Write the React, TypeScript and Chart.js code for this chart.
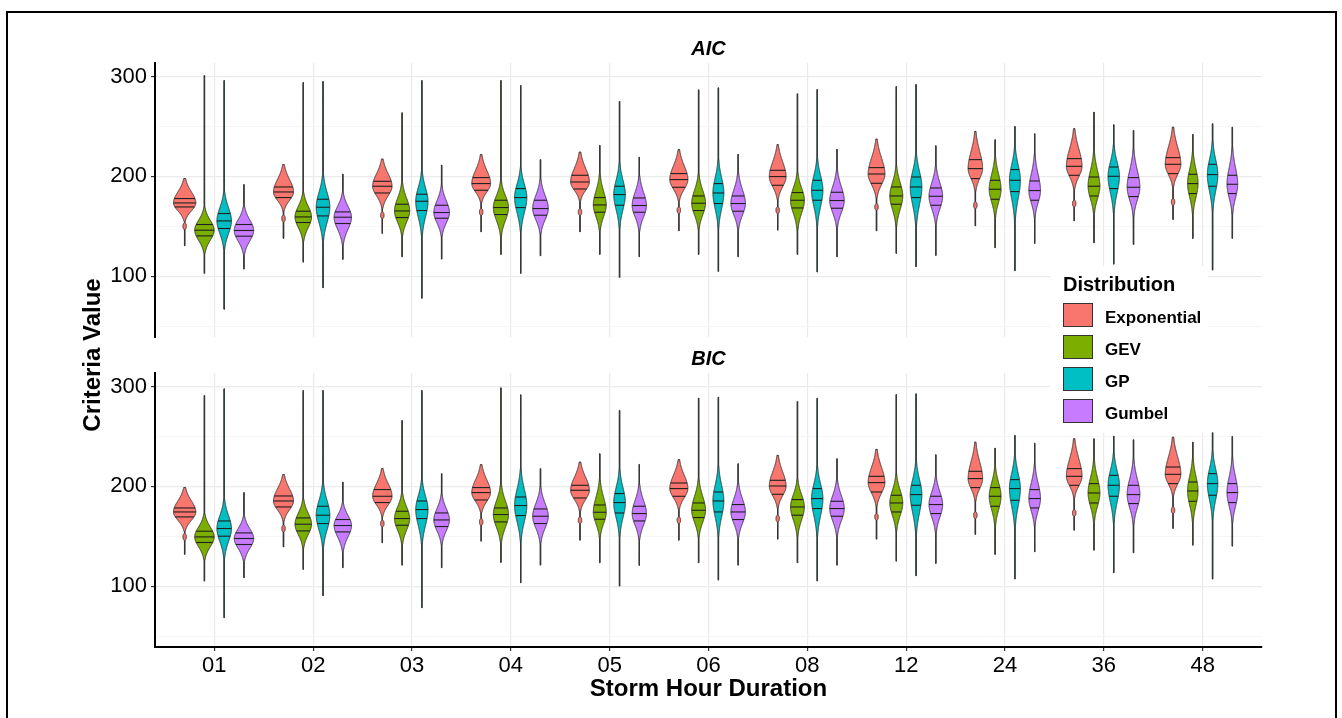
import React, { useEffect, useRef } from 'react';
import { Chart, registerables } from 'chart.js';

Chart.register(...registerables);

// ---------------- data ----------------
const DURATIONS = ['01', '02', '03', '04', '05', '06', '08', '12', '24', '36', '48'];
const DISTRIBUTIONS = ['Exponential', 'GEV', 'GP', 'Gumbel'];
const Y_TICKS = [50, 100, 150, 200, 250, 300];

// relative peak density of each violin (Exponential, GEV, GP, Gumbel)
const PEAK_DENSITY = [
  [100, 90, 87, 84, 84, 81, 75, 75, 65, 70, 70],
  [87, 74, 68, 68, 58, 62, 62, 58, 53, 53, 47],
  [65, 61, 55, 55, 52, 49, 51, 52, 49, 51, 47],
  [87, 78, 70, 70, 64, 65, 65, 61, 52, 57, 48],
];

// ---- AIC ---- rows: Exponential, GEV, GP, Gumbel
const AIC_MAX = [
  [197.7, 211.7, 217.3, 221.7, 224.3, 226.7, 231.7, 237.3, 245, 247.7, 249.3],
  [301, 294, 263.7, 296, 231, 286.7, 282.7, 290, 236.7, 264.3, 242],
  [296, 295, 296, 291, 275, 288.7, 287, 292, 250, 251.7, 252.7],
  [191.7, 202.3, 211.3, 216.7, 219.3, 222, 227, 230.7, 242.7, 246, 249.3],
];
const AIC_UPPER = [
  [197.7, 211.7, 217.3, 221.7, 224.3, 226.7, 231.7, 237.3, 245, 247.7, 249.3],
  [167.7, 182.7, 192.7, 194.3, 201, 201, 202.7, 209.3, 219.3, 224.3, 224.3],
  [184, 201, 204.3, 207.7, 212.7, 216, 217.7, 222.7, 229.3, 231, 234.3],
  [169, 182.7, 189.3, 196, 199.3, 202.7, 206, 209.3, 221, 226, 227.7],
];
const AIC_Q3 = [
  [177.7, 189.3, 195, 198.7, 201, 202.7, 206, 208.7, 216.7, 217.7, 218.7],
  [151.7, 165, 172, 176, 178.7, 180.3, 183.7, 189.3, 196, 199.3, 202],
  [162.7, 177, 182, 187.7, 190, 192.7, 196, 199.3, 206.7, 209.3, 212],
  [151.7, 164.3, 171, 176, 178.3, 180.3, 184, 188.3, 195.3, 198.7, 201],
];
const AIC_MEDIAN = [
  [173.3, 184.3, 190, 192.7, 194.3, 196.7, 199.7, 202.3, 207.7, 210, 212],
  [146, 159.3, 165.3, 168.7, 171.3, 173, 176, 180.3, 187, 190, 192.7],
  [155.3, 169, 175, 178.7, 181.7, 183.3, 186, 189.3, 196, 200, 201.7],
  [145.7, 159, 163.7, 167.7, 170.7, 172.7, 175.7, 180, 185.7, 189, 192],
];
const AIC_Q1 = [
  [169.3, 178.7, 183.3, 186, 187.3, 189, 191, 193, 197.7, 201, 202.7],
  [140.3, 153.7, 158.7, 161.7, 164, 165.7, 168.3, 172, 177, 180.3, 182.7],
  [147.7, 160.3, 165.7, 168.7, 171, 172.7, 176, 178.7, 184.7, 187.7, 190],
  [140, 152.7, 158, 161, 164, 165, 168, 171, 176, 179.7, 182.7],
];
const AIC_LOWER = [
  [156, 166, 169.3, 174.3, 176, 176, 177.7, 179.3, 186, 187.7, 190],
  [124, 136, 141, 141, 146, 147.7, 147.7, 151, 159.3, 162.7, 162.7],
  [127.7, 136, 141, 146, 149.3, 149.3, 151, 151, 156, 164.3, 166],
  [122.7, 132.7, 141, 143.3, 146, 147.7, 149.3, 152.7, 159.3, 161, 162.7],
];
const AIC_MIN = [
  [130.3, 137.7, 142.7, 144.3, 144.3, 145.3, 146, 145.3, 150.3, 155.3, 156.7],
  [102.7, 114, 119.3, 121.7, 121.7, 121.7, 121.7, 122.7, 128.3, 133.3, 137.7],
  [66.7, 88.3, 77.7, 102.7, 98.7, 104.7, 104, 109.3, 105.3, 112, 106],
  [107, 116.7, 117, 120.3, 119.3, 119.3, 119.3, 120.7, 132.7, 131.7, 137.7],
];
// secondary (lower) mode of the Exponential violins
const AIC_EXP_MODE2 = [150, 157.7, 161, 164.3, 164.3, 166, 166, 169.3, 171, 172.7, 174.3];

// ---- BIC ----
const BIC_MAX = [
  [198.7, 211.7, 217.7, 221.7, 224.3, 226.7, 231, 237, 244.3, 247.7, 249.3],
  [291, 296, 266, 298.7, 232.7, 288.3, 285, 292, 238.3, 247.7, 244.3],
  [297.7, 296, 296, 291.7, 276, 289.3, 288.3, 292.7, 251, 250.3, 253.7],
  [193.7, 204.3, 212.7, 217.7, 222, 222.7, 227.7, 231.7, 243.3, 246.7, 250],
];
const BIC_UPPER = [
  [198.7, 211.7, 217.7, 221.7, 224.3, 226.7, 231, 237, 244.3, 247.7, 249.3],
  [171, 186, 192.7, 201, 206, 206, 206, 211, 219.3, 226, 227.7],
  [186, 202.7, 206, 216, 216, 219.3, 219.3, 224.3, 231, 232.7, 234.3],
  [169.3, 182.7, 191, 197.7, 201, 202.7, 206, 209.3, 221, 226, 227.7],
];
const BIC_Q3 = [
  [178.3, 190.3, 196.7, 198.7, 201, 203.3, 206, 210, 215, 217.7, 219.3],
  [155, 168.3, 175, 178.3, 181.3, 183.3, 186.7, 191, 198.7, 202.7, 204.3],
  [165.3, 180, 185.3, 189.3, 192.7, 194.3, 197.7, 201, 206.7, 211, 212.7],
  [153.3, 166.7, 173.3, 177.3, 180, 181.7, 185, 190, 196.7, 201, 202.7],
];
const BIC_MEDIAN = [
  [174.3, 185.3, 190, 193.7, 196, 197.7, 200.3, 203.7, 207.7, 210, 212],
  [149.3, 162, 167.7, 171.7, 174, 176, 179.3, 183.3, 190, 193.3, 195.3],
  [157.7, 171, 176.7, 180.7, 183.7, 185.3, 187.7, 191.7, 197.7, 201, 202.7],
  [147.7, 160.7, 166.3, 170, 172.7, 174.3, 177.7, 181.7, 187.7, 191.7, 193.7],
];
const BIC_Q1 = [
  [169.3, 179.3, 183.7, 186.3, 188.3, 190, 192, 194.3, 198.7, 201, 202.7],
  [143.7, 155.3, 161, 164.3, 167, 168.7, 171, 174.3, 180, 183.3, 185],
  [150, 162.7, 167.7, 170.7, 173.3, 174.3, 177.7, 181, 186, 190, 191],
  [141.7, 154.3, 159.7, 162.7, 165.3, 166.7, 170, 172.7, 178.3, 182.7, 183.7],
];
const BIC_LOWER = [
  [156, 166, 171, 174.3, 176, 177.7, 179.3, 181, 186, 189.3, 191],
  [127.7, 139.3, 142.7, 144.3, 149.3, 150, 151, 156, 161, 164.3, 164.3],
  [129.3, 139.3, 142.7, 146, 151, 151, 151, 152.7, 159.3, 164.3, 167.7],
  [126, 136, 142.7, 144.3, 147.7, 149.3, 151, 154.3, 161, 162.7, 164.3],
];
const BIC_MIN = [
  [131.7, 139.3, 143.3, 145, 146, 146, 147, 147, 151.7, 156, 157.7],
  [105, 116.7, 121, 123.7, 123.3, 123.3, 123.3, 125, 131.7, 136, 141],
  [68.3, 90.3, 78.3, 103.3, 100, 106, 105, 110.3, 107, 113.3, 107],
  [108.3, 118.3, 118.3, 121, 120.7, 121, 121, 122.7, 134.3, 133.3, 140],
];
const BIC_EXP_MODE2 = [149.3, 157.7, 162.7, 164.3, 166, 166, 167.7, 169.3, 171, 173.3, 176];

// ---------------- styling ----------------
const COLORS = ['#F8766D', '#7CAE00', '#00BFC4', '#C77CFF'];
const DODGE = [-0.3, -0.1, 0.1, 0.3];
const MAX_HALF_WIDTH = 0.113; // x units for PEAK_DENSITY = 100
const FONT = '"Liberation Sans", Arial, Helvetica, sans-serif';
const OUTLINE = '#333333';

type Facet = {
  id: string;
  title: string;
  max: number[][];
  upper: number[][];
  q3: number[][];
  median: number[][];
  q1: number[][];
  lower: number[][];
  min: number[][];
  mode2: number[];
};

const FACETS: Facet[] = [
  { id: 'yA', title: 'AIC', max: AIC_MAX, upper: AIC_UPPER, q3: AIC_Q3, median: AIC_MEDIAN, q1: AIC_Q1, lower: AIC_LOWER, min: AIC_MIN, mode2: AIC_EXP_MODE2 },
  { id: 'yB', title: 'BIC', max: BIC_MAX, upper: BIC_UPPER, q3: BIC_Q3, median: BIC_MEDIAN, q1: BIC_Q1, lower: BIC_LOWER, min: BIC_MIN, mode2: BIC_EXP_MODE2 },
];

function makeDatasets() {
  const ds: any[] = [];
  FACETS.forEach((f) => {
    DISTRIBUTIONS.forEach((name, d) => {
      ds.push({
        type: 'scatter',
        label: name + ' ' + f.title,
        yAxisID: f.id,
        data: DURATIONS.map((_, i) => ({ x: i + 1 + DODGE[d], y: f.median[d][i] })),
        pointRadius: 0,
        pointHoverRadius: 0,
        backgroundColor: COLORS[d],
        violin: DURATIONS.map((_, i) => ({
          x: i + 1 + DODGE[d],
          max: f.max[d][i],
          upper: f.upper[d][i],
          q3: f.q3[d][i],
          med: f.median[d][i],
          q1: f.q1[d][i],
          lower: f.lower[d][i],
          min: f.min[d][i],
          mode2: d === 0 ? f.mode2[i] : null,
          dens: PEAK_DENSITY[d][i],
        })),
        color: COLORS[d],
      });
    });
  });
  return ds;
}

function halfWidthAt(v: number, s: any, W: number) {
  let t: number;
  if (v <= s.med) t = (s.med - v) / Math.max(1e-6, s.med - s.lower);
  else t = (v - s.med) / Math.max(1e-6, s.upper - s.med);
  let w = W * Math.exp(-2.4 * t * t);
  if (t > 1) w *= Math.exp(-6 * (t - 1));
  if (s.mode2 != null) {
    const u = (v - s.mode2) / 3.2;
    w = Math.max(w, 1.7 * Math.exp(-u * u * u * u));
  }
  return Math.max(w, 0.2);
}

const violinPlugin = {
  id: 'violinPlugin',
  beforeDatasetsDraw(chart: any) {
    const { ctx, chartArea } = chart;
    const yA = chart.scales.yA;
    const yB = chart.scales.yB;
    // blank strip between panels
    ctx.save();
    ctx.fillStyle = '#ffffff';
    ctx.fillRect(chartArea.left + 1, yA.bottom, chartArea.right - chartArea.left + 2, yB.top - yA.bottom);
    ctx.restore();
  },
  afterDatasetsDraw(chart: any) {
    const { ctx } = chart;
    const xs = chart.scales.x;
    chart.data.datasets.forEach((ds: any) => {
      const ys = chart.scales[ds.yAxisID];
      ds.violin.forEach((s: any) => {
        const cx = xs.getPixelForValue(s.x);
        const W = xs.getPixelForValue(s.x + (MAX_HALF_WIDTH * s.dens) / 100) - cx;
        ctx.save();
        // thin tail from min to max
        ctx.strokeStyle = '#3a3a3a';
        ctx.lineWidth = 1.4;
        ctx.beginPath();
        ctx.moveTo(cx, ys.getPixelForValue(s.min));
        ctx.lineTo(cx, ys.getPixelForValue(s.max));
        ctx.stroke();
        // body
        const n = 500;
        const pts: [number, number][] = [];
        for (let k = 0; k <= n; k++) {
          const v = s.min + ((s.max - s.min) * k) / n;
          pts.push([halfWidthAt(v, s, W), ys.getPixelForValue(v)]);
        }
        ctx.beginPath();
        pts.forEach(([w, y], k) => {
          if (k === 0) ctx.moveTo(cx + w, y);
          else ctx.lineTo(cx + w, y);
        });
        for (let k = pts.length - 1; k >= 0; k--) {
          const [w, y] = pts[k];
          ctx.lineTo(cx - w, y);
        }
        ctx.closePath();
        ctx.fillStyle = ds.color;
        ctx.fill();
        ctx.lineWidth = 1;
        ctx.strokeStyle = OUTLINE;
        ctx.lineJoin = 'round';
        ctx.stroke();
        // quantile lines
        ctx.lineWidth = 1.1;
        ctx.strokeStyle = '#1f1f1f';
        [s.q1, s.med, s.q3].forEach((q: number) => {
          const w = halfWidthAt(q, s, W);
          const y = ys.getPixelForValue(q);
          ctx.beginPath();
          ctx.moveTo(cx - w, y);
          ctx.lineTo(cx + w, y);
          ctx.stroke();
        });
        ctx.restore();
      });
    });
  },
  afterDraw(chart: any) {
    const { ctx, chartArea } = chart;
    const yA = chart.scales.yA;
    const yB = chart.scales.yB;
    const midX = (chartArea.left + chartArea.right) / 2;
    ctx.save();
    // strip titles
    ctx.fillStyle = '#000000';
    ctx.textAlign = 'center';
    ctx.textBaseline = 'middle';
    ctx.font = 'italic bold 20px ' + FONT;
    ctx.fillText(FACETS[0].title, midX, yA.top - 14);
    ctx.fillText(FACETS[1].title, midX, yB.top - 14);
    // y axis title
    ctx.save();
    ctx.translate(93, (chartArea.top + chartArea.bottom) / 2);
    ctx.rotate(-Math.PI / 2);
    ctx.font = 'bold 24px ' + FONT;
    ctx.fillText('Criteria Value', 0, 0);
    ctx.restore();
    // legend
    const lx = 1050;
    const ly = 266;
    ctx.fillStyle = '#ffffff';
    ctx.fillRect(lx, ly, 158, 167);
    ctx.fillStyle = '#000000';
    ctx.textAlign = 'left';
    ctx.font = 'bold 20px ' + FONT;
    ctx.fillText('Distribution', lx + 13, ly + 19);
    ctx.font = 'bold 17px ' + FONT;
    DISTRIBUTIONS.forEach((name, i) => {
      const ky = ly + 37 + i * 32;
      ctx.fillStyle = COLORS[i];
      ctx.fillRect(lx + 13, ky, 30, 24);
      ctx.strokeStyle = OUTLINE;
      ctx.lineWidth = 1;
      ctx.strokeRect(lx + 13.5, ky + 0.5, 29, 23);
      ctx.fillStyle = '#000000';
      ctx.fillText(name, lx + 55, ky + 15);
    });
    // outer frame
    ctx.strokeStyle = '#000000';
    ctx.lineWidth = 2;
    ctx.strokeRect(7, 12, 1329, 720);
    ctx.restore();
  },
};

function yScale(weight: number) {
  return {
    type: 'linear' as const,
    position: 'left' as const,
    stack: 'panels',
    stackWeight: 274,
    weight,
    min: 39,
    max: 313.5,
    afterBuildTicks: (scale: any) => {
      scale.ticks = Y_TICKS.map((v) => ({ value: v }));
    },
    afterFit: (scale: any) => {
      scale.width = 155;
    },
    ticks: {
      callback: (v: any) => (Number(v) % 100 === 0 ? String(v) : ''),
      color: '#000000',
      font: { family: FONT, size: 22 },
      padding: 4,
    },
    grid: {
      color: (c: any) => (c.tick && c.tick.value % 100 === 0 ? '#EBEBEB' : '#F4F4F4'),
      lineWidth: (c: any) => (c.tick && c.tick.value % 100 === 0 ? 1.2 : 0.8),
      tickColor: (c: any) => (c.tick && c.tick.value % 100 === 0 ? '#333333' : 'rgba(0,0,0,0)'),
      tickLength: 4,
    },
    border: { color: '#000000', width: 2 },
  };
}

export default function App() {
  const ref = useRef<HTMLCanvasElement | null>(null);
  useEffect(() => {
    if (!ref.current) return;
    const chart = new Chart(ref.current, {
      type: 'scatter',
      data: { datasets: makeDatasets() },
      options: {
        animation: false,
        responsive: false,
        devicePixelRatio: 1,
        layout: { padding: { top: 63, right: 80, bottom: 0, left: 0 } },
        plugins: { legend: { display: false }, tooltip: { enabled: false } },
        events: [],
        scales: {
          x: {
            type: 'linear',
            position: 'bottom',
            min: 0.4,
            max: 11.6,
            afterBuildTicks: (scale: any) => {
              scale.ticks = DURATIONS.map((_, i) => ({ value: i + 1 }));
            },
            afterFit: (scale: any) => {
              scale.height = 71;
            },
            ticks: {
              autoSkip: false,
              maxRotation: 0,
              callback: (v: any) => DURATIONS[Math.round(Number(v)) - 1] ?? '',
              color: '#000000',
              font: { family: FONT, size: 22 },
              padding: 2,
            },
            grid: { color: '#EBEBEB', lineWidth: 1.2, tickColor: '#333333', tickLength: 4 },
            border: { color: '#000000', width: 2 },
            title: {
              display: true,
              text: 'Storm Hour Duration',
              color: '#000000',
              font: { family: FONT, size: 24, weight: 'bold' },
              padding: { top: 0, bottom: 14 },
            },
          },
          yA: yScale(3) as any,
          yGap: {
            type: 'linear',
            position: 'left',
            stack: 'panels',
            stackWeight: 36,
            weight: 2,
            display: false,
          },
          yB: yScale(1) as any,
        },
      } as any,
      plugins: [violinPlugin],
    });
    return () => chart.destroy();
  }, []);
  return (
    <div style={{ position: 'absolute', left: 0, top: 0, width: 1342, height: 718, background: '#ffffff' }}>
      <canvas ref={ref} width={1342} height={718} />
    </div>
  );
}
